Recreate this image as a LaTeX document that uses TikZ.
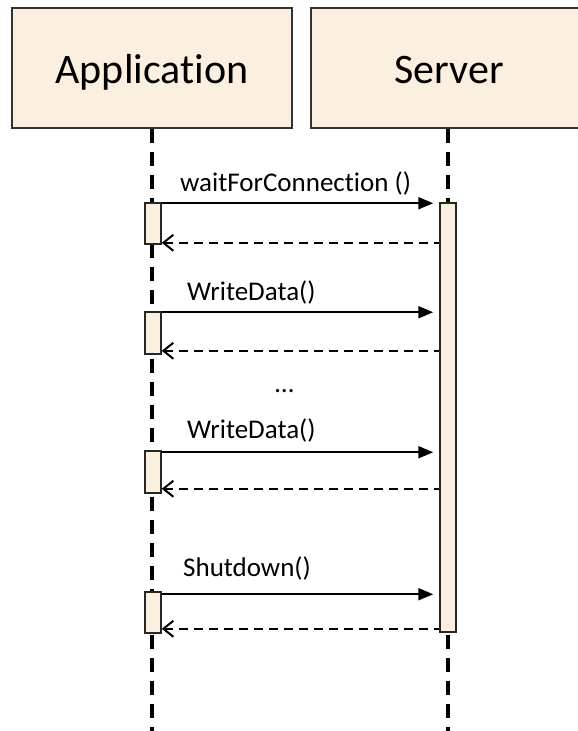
\documentclass[tikz,border=0pt]{standalone}
\usepackage{fontspec}
\setmainfont{Carlito}[Ligatures={NoCommon,TeX}]
\usetikzlibrary{positioning}
\usetikzlibrary{arrows.meta}
\definecolor{headfill}{RGB}{251,239,224}
\tikzset{
  head/.style={draw=black!80,line width=1.2pt,fill=headfill,inner sep=0pt},
  headtxt/.style={anchor=base,font=\fontsize{42}{50}\selectfont,inner sep=0pt},
  lifeline/.style={line width=4pt,dash pattern=on 14pt off 9pt},
  actbar/.style={draw=black!85,line width=1.5pt,fill=headfill,inner sep=0pt,
    minimum width=16pt},
  call/.style={line width=2pt,-{Triangle[length=15pt,width=12pt]},shorten >=6pt},
  ret/.style={line width=2pt,dash pattern=on 9pt off 6pt,
    {Straight Barb[length=10pt,width=16pt,line width=2pt]}-},
  msg/.style={font=\fontsize{27}{32}\selectfont,anchor=base west,inner sep=0pt}
}
\begin{document}
\begin{tikzpicture}[x=1pt,y=-1pt]
        \clip (0,0) rectangle (578,731);
        % Lifeline heads
        \node[head,minimum width=280pt,minimum height=120pt] (app) at (152,68) {};
        \node[headtxt] (apptxt) at (152,83) {Application};
        \node[head,minimum width=274pt,minimum height=120pt] (srv) at (448,68) {};
        \node[headtxt] (srvtxt) at (449,83) {Server};
        % Lifelines
        \coordinate (append) at (152,731);
        \coordinate (srvend) at (448,731);
        \draw[lifeline] (app.south) -- (append);
        \draw[lifeline] (srv.south) -- (srvend);
        % Activation bars
        \node[actbar,minimum height=429pt] (sbar) at (448,417.5) {};
        \node[actbar,minimum height=41pt] (a1) at (153,223.5) {};
        \node[actbar,minimum height=42pt] (a2) at (153,333) {};
        \node[actbar,minimum height=42pt] (a3) at (153,472) {};
        \node[actbar,minimum height=41pt] (a4) at (153,612.5) {};
        % Messages
        \node[msg] (m1) at (180,191) {waitForConnection ()};
        \draw[call] ([yshift=-1pt]a1.north east) -- ([yshift=-1pt]a1.north east -| sbar.west);
        \draw[ret] ([yshift=2pt]a1.south east) -- ([yshift=2pt]a1.south east -| sbar.west);
        \node[msg] (m2) at (187,300) {WriteData()};
        \draw[call] ([yshift=-1pt]a2.north east) -- ([yshift=-1pt]a2.north east -| sbar.west);
        \draw[ret] ([yshift=4pt]a2.south east) -- ([yshift=4pt]a2.south east -| sbar.west);
        \node[msg] (dots) at (275,392) {\dots};
        \node[msg] (m3) at (187,438) {WriteData()};
        \draw[call] ([yshift=-2pt]a3.north east) -- ([yshift=-2pt]a3.north east -| sbar.west);
        \draw[ret] ([yshift=5pt]a3.south east) -- ([yshift=5pt]a3.south east -| sbar.west);
        \node[msg] (m4) at (183,576) {Shutdown()};
        \draw[call] ([yshift=-3pt]a4.north east) -- ([yshift=-3pt]a4.north east -| sbar.west);
        \draw[ret] ([yshift=5pt]a4.south east) -- ([yshift=5pt]a4.south east -| sbar.west);
\end{tikzpicture}
\end{document}
